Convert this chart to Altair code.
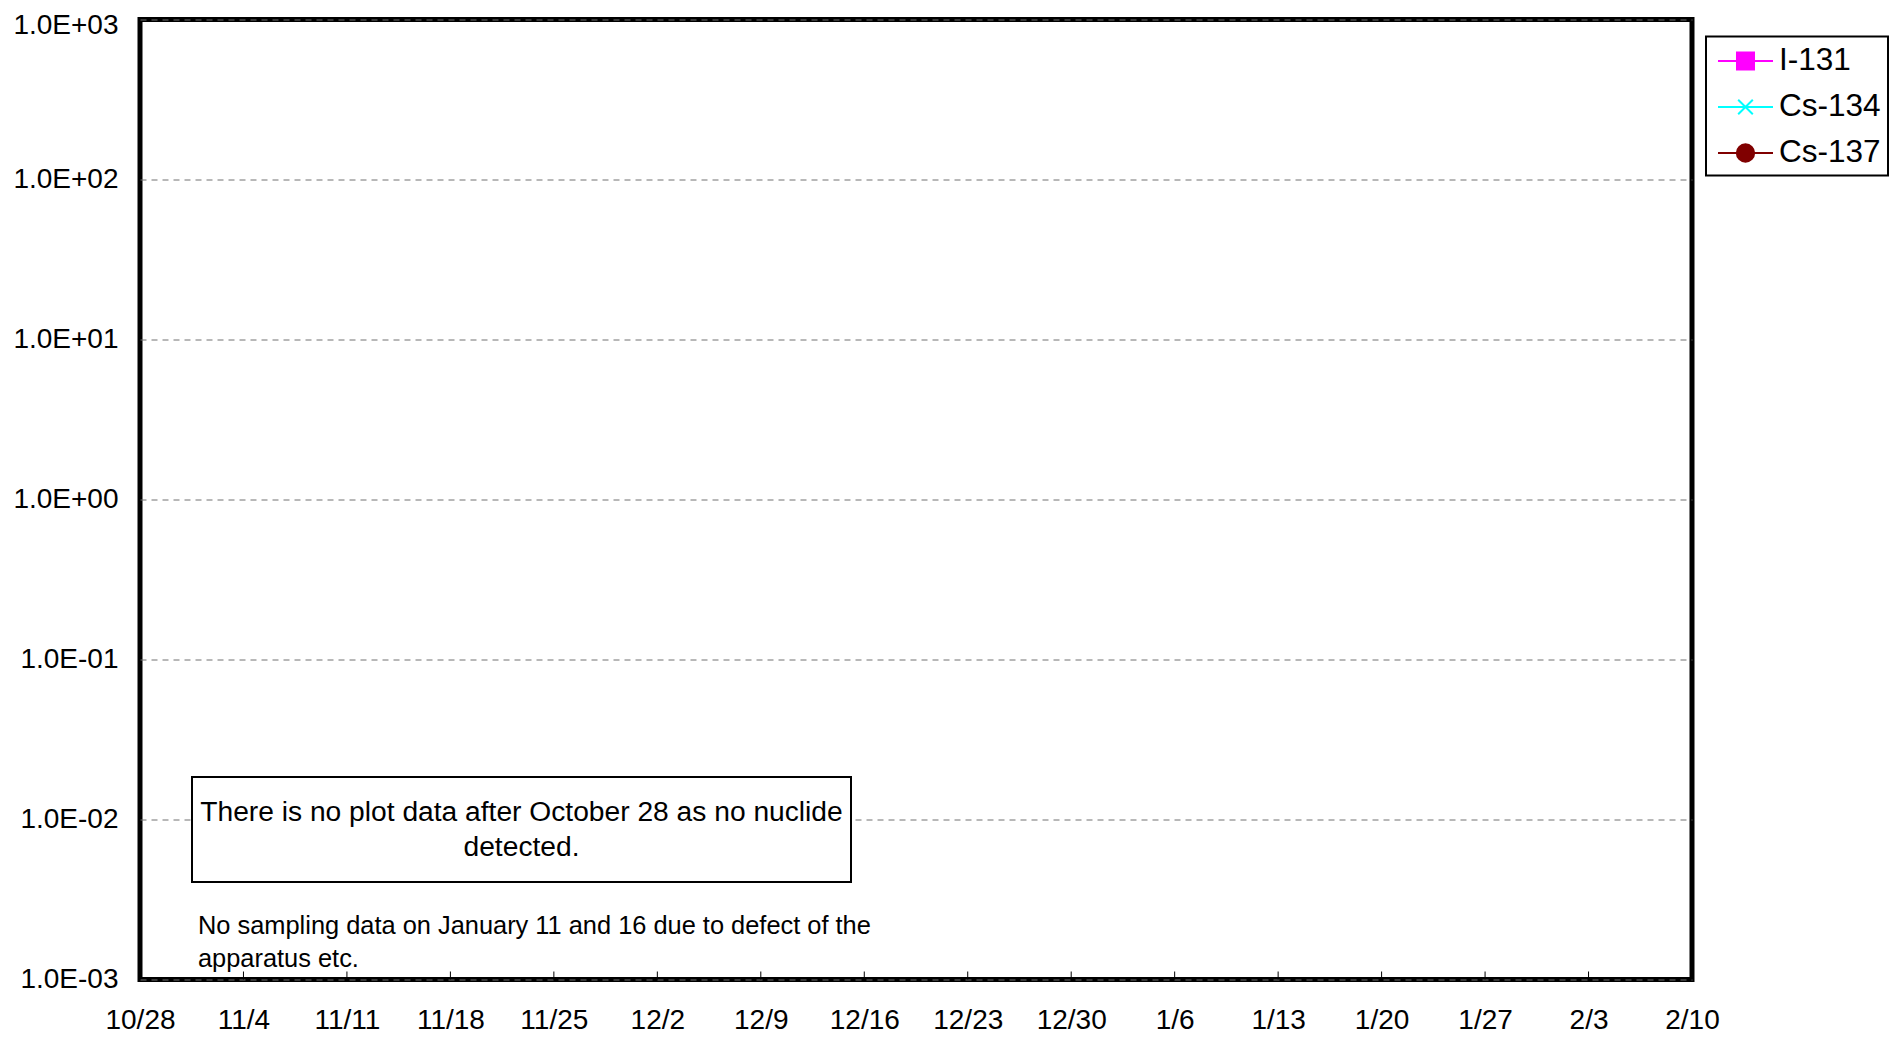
import altair as alt

# ---- data -------------------------------------------------------------
nuclides = ["I-131", "Cs-134", "Cs-137"]
nuclide_colors = ["#FF00FF", "#00FFFF", "#800000"]

# no nuclide detected after October 28 -> no plotted points
sample_dates = []
i131_values = []
cs134_values = []
cs137_values = []

tick_dates = ["2011/10/28", "2011/11/04", "2011/11/11", "2011/11/18",
              "2011/11/25", "2011/12/02", "2011/12/09", "2011/12/16",
              "2011/12/23", "2011/12/30", "2012/01/06", "2012/01/13",
              "2012/01/20", "2012/01/27", "2012/02/03", "2012/02/10"]
y_ticks = [1e-3, 1e-2, 1e-1, 1e0, 1e1, 1e2, 1e3]

box_text = ["There is no plot data after October 28 as no nuclide", "detected."]
note_text = ["No sampling data on January 11 and 16 due to defect of the",
             "apparatus etc."]

# legend symbols (line + marker), drawn to the right of the symbol centre
legend_paths = [
    "M-0.736,0H2.5M0.382,-0.5H1.382V0.5H0.382Z",
    "M-0.736,0H2.5M0.452,-0.43L1.312,0.43M0.452,0.43L1.312,-0.43",
    "M-0.736,0H2.5M0.372,0A0.51,0.51,0,1,0,1.392,0A0.51,0.51,0,1,0,0.372,0Z",
]

# ---- build ------------------------------------------------------------
records = []
for name, vals in zip(nuclides, [i131_values, cs134_values, cs137_values]):
    for d, v in zip(sample_dates, vals):
        records.append({"date": d, "nuclide": name, "value": v})


def to_dt(s):
    y, m, d = (int(p) for p in s.split("/"))
    return alt.DateTime(year=y, month=m, date=d)


FONT = "Liberation Sans"

x_enc = alt.X(
    "date:T",
    scale=alt.Scale(domain=[to_dt(tick_dates[0]), to_dt(tick_dates[-1])], nice=False),
    axis=alt.Axis(values=[to_dt(s) for s in tick_dates], format="%-m/%-d",
                  grid=False, ticks=False, domain=False, title=None,
                  labelFont=FONT, labelFontSize=28, labelColor="black",
                  labelPadding=27, labelFlush=False, labelOverlap=False),
)
y_enc = alt.Y(
    "value:Q",
    scale=alt.Scale(type="log", domain=[1e-3, 1e3], nice=False),
    axis=alt.Axis(values=y_ticks,
                  labelExpr="'1.0E' + (round(log(datum.value)/LN10) < 0 ? '-' : '+') + '0' + abs(round(log(datum.value)/LN10))",
                  labelOffset={"condition": {"test": "datum.value >= 1000", "value": 6}, "value": 0},
                  grid=True, gridDash=[6, 5], gridColor="#707070", gridWidth=1,
                  ticks=False, domain=False, title=None,
                  labelFont=FONT, labelFontSize=28, labelColor="black",
                  labelPadding=22, labelFlush=False, labelOverlap=False),
)

leg = alt.Legend(title=None, orient="none", legendX=1566, legendY=17)
color_scale = alt.Scale(domain=nuclides, range=nuclide_colors)
shape_scale = alt.Scale(domain=nuclides, range=legend_paths)

series = alt.Chart(alt.Data(values=records))

lines = series.mark_line(strokeWidth=2).encode(
    x=x_enc, y=y_enc,
    stroke=alt.Stroke("nuclide:N", scale=color_scale, legend=leg),
)
points = series.mark_point(filled=True, opacity=1, strokeWidth=2).encode(
    x=x_enc, y=y_enc,
    fill=alt.Fill("nuclide:N", scale=color_scale, legend=leg),
    stroke=alt.Stroke("nuclide:N", scale=color_scale, legend=leg),
    shape=alt.Shape("nuclide:N", scale=shape_scale, legend=leg),
)

ticks = alt.Chart(alt.Data(values=[{"date": d} for d in tick_dates])).mark_rule(
    color="black", strokeWidth=1
).encode(x=alt.X("date:T"), y=alt.value(960), y2=alt.value(952))

one = alt.Data(values=[{"k": 0}])
box = alt.Chart(one).mark_rect(fill="white", stroke="black", strokeWidth=2).encode(
    x=alt.value(52), x2=alt.value(711), y=alt.value(757.5), y2=alt.value(862.5)
)
box_label = alt.Chart(one).mark_text(
    text=box_text, align="center", baseline="alphabetic", font=FONT,
    fontSize=28.2, lineHeight=35, color="black"
).encode(x=alt.value(381.5), y=alt.value(801.5))
note = alt.Chart(one).mark_text(
    text=note_text, align="left", baseline="alphabetic", font=FONT,
    fontSize=25.4, lineHeight=33, color="black"
).encode(x=alt.value(58), y=alt.value(914.5))

chart = alt.layer(lines, points, ticks, box, box_label, note).properties(
    width=1552, height=960,
    autosize=alt.AutoSizeParams(type="none"),
    padding={"left": 132, "top": 11.5, "right": 204, "bottom": 58.5},
).configure(font=FONT).configure_view(
    stroke="black", strokeWidth=5
).configure_legend(
    padding=6.5, strokeColor="black", strokeWidth=2, fillColor="white",
    labelFont=FONT, labelFontSize=31.5, labelColor="black", labelOffset=30.5,
    rowPadding=12, symbolSize=1156, symbolStrokeWidth=2,
)

chart.save("out.html", embed_options={"renderer": "svg", "actions": False})
